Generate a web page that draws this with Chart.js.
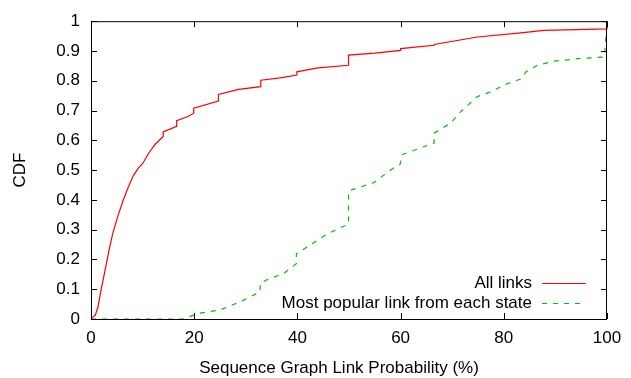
<!DOCTYPE html>
<html>
<head>
<meta charset="utf-8">
<title>CDF of sequence graph link probability</title>
<script src="https://cdn.jsdelivr.net/npm/chart.js@4.4.1/dist/chart.umd.min.js"></script>
<style>
  html, body { margin: 0; padding: 0; background: #fff; }
  #cdfChart { display: block; }
</style>
</head>
<body>
<canvas id="cdfChart" width="631" height="378"></canvas>
<script>
// Valeurs (x en %, y = CDF)
const allLinksX = [0, 0.06, 0.84, 1.36, 1.88, 2.33, 2.98, 3.62, 4.27, 5.24, 6.21, 7.18, 8.16, 9.13, 10.1, 11.07,
    12.4, 14, 14, 16.6, 16.6, 18.8, 19.9, 19.9, 24.7, 24.7, 28.6, 32.9, 32.9, 36.7, 39.9, 39.9, 44,
    49.9, 49.9, 55, 60, 60, 66.5, 66.5, 74.9, 83.3, 87.8, 100, 100];
const allLinksCdf = [0, 0.002, 0.013, 0.041, 0.091, 0.13, 0.186, 0.241, 0.291, 0.347, 0.397, 0.441, 0.48, 0.506, 0.524, 0.554,
    0.586, 0.613, 0.628, 0.647, 0.666, 0.68, 0.691, 0.708, 0.732, 0.754, 0.771, 0.78, 0.802, 0.81, 0.819, 0.83, 0.843,
    0.852, 0.886, 0.893, 0.902, 0.908, 0.919, 0.922, 0.947, 0.961, 0.969, 0.974, 1];

const popularX = [0, 17.9, 20.8, 25, 28.9, 32.8, 32.8, 34.1, 37.3, 39.8, 39.8, 42.8, 45.8, 49.9, 49.9,
    54.8, 58.7, 59.9, 60.3, 66.5, 66.5, 69.7, 71.7, 74.9, 77.5, 80.1, 83.3, 84.3, 86.5, 89.8, 94.3, 99.5, 100];
const popularCdf = [0, 0, 0.019, 0.03, 0.058, 0.091, 0.119, 0.132, 0.152, 0.186, 0.219, 0.252, 0.286, 0.319, 0.43,
    0.458, 0.508, 0.519, 0.552, 0.591, 0.624, 0.658, 0.697, 0.747, 0.763, 0.786, 0.806, 0.83, 0.852, 0.866, 0.874, 0.88, 1];

const seriesLabels = ['All links', 'Most popular link from each state'];
const xTitle = 'Sequence Graph Link Probability (%)';
const yTitle = 'CDF';

const FONT = { family: '"Liberation Sans", Arial, Helvetica, sans-serif', size: 17 };
const RED = '#ff0000';
const GREEN = '#00c000';

function toPoints(xs, ys) {
    return xs.map((x, i) => ({ x: x, y: ys[i] }));
}

// Cadre, graduations internes (style gnuplot), titre X et légende
const gnuplotFrame = {
    id: 'gnuplotFrame',
    afterDatasetsDraw(chart) {
        const { ctx, chartArea: a, scales } = chart;
        const tick = 6;
        ctx.save();
        ctx.strokeStyle = '#000';
        ctx.lineWidth = 1;
        ctx.strokeRect(a.left + 0.5, a.top + 0.5, a.right - a.left - 1, a.bottom - a.top);

        ctx.beginPath();
        scales.x.ticks.forEach(t => {
            const px = Math.round(scales.x.getPixelForValue(t.value)) + 0.5;
            ctx.moveTo(px, a.bottom); ctx.lineTo(px, a.bottom - tick);
            ctx.moveTo(px, a.top); ctx.lineTo(px, a.top + tick);
        });
        scales.y.ticks.forEach(t => {
            const py = Math.round(scales.y.getPixelForValue(t.value)) + 0.5;
            ctx.moveTo(a.left, py); ctx.lineTo(a.left + tick, py);
            ctx.moveTo(a.right, py); ctx.lineTo(a.right - tick, py);
        });
        ctx.stroke();

        // Titre de l'axe X
        ctx.font = `${FONT.size}px ${FONT.family}`;
        ctx.fillStyle = '#000';
        ctx.textAlign = 'center';
        ctx.textBaseline = 'middle';
        ctx.fillText(xTitle, 339, 368);

        // Légende dans la zone du graphique
        ctx.textAlign = 'right';
        chart.data.datasets.forEach((ds, i) => {
            const y = 283 + i * 20;
            ctx.fillText(ds.label, 532, y);
            ctx.beginPath();
            ctx.strokeStyle = ds.borderColor;
            ctx.lineWidth = ds.borderWidth;
            ctx.setLineDash(ds.borderDash || []);
            ctx.moveTo(542, y + 0.5);
            ctx.lineTo(586, y + 0.5);
            ctx.stroke();
        });
        ctx.restore();
    }
};

new Chart(document.getElementById('cdfChart').getContext('2d'), {
    type: 'line',
    data: {
        datasets: [
            {
                label: seriesLabels[0],
                data: toPoints(allLinksX, allLinksCdf),
                borderColor: RED,
                borderWidth: 1.2,
                pointRadius: 0,
                tension: 0,
                clip: 3
            },
            {
                label: seriesLabels[1],
                data: toPoints(popularX, popularCdf),
                borderColor: GREEN,
                borderWidth: 1.2,
                borderDash: [5, 6],
                pointRadius: 0,
                tension: 0,
                clip: 3
            }
        ]
    },
    options: {
        responsive: false,
        animation: false,
        devicePixelRatio: 1,
        layout: { padding: { top: 19, right: 24, left: 0, bottom: 0 } },
        plugins: {
            legend: { display: false },
            tooltip: { enabled: false }
        },
        scales: {
            x: {
                type: 'linear',
                min: 0,
                max: 100,
                ticks: { stepSize: 20, color: '#000', font: FONT, padding: 9, maxRotation: 0 },
                grid: { display: false, drawTicks: false },
                border: { display: false },
                afterFit(scale) { scale.height = 59; }
            },
            y: {
                type: 'linear',
                min: 0,
                max: 1,
                ticks: {
                    stepSize: 0.1, color: '#000', font: FONT, padding: 11,
                    callback: v => String(Number(v.toFixed(1)))
                },
                grid: { display: false, drawTicks: false },
                border: { display: false },
                title: { display: true, text: yTitle, color: '#000', font: FONT, padding: { top: 10, bottom: 0 } },
                afterFit(scale) { scale.width = 91; }
            }
        }
    },
    plugins: [gnuplotFrame]
});
</script>
</body>
</html>
